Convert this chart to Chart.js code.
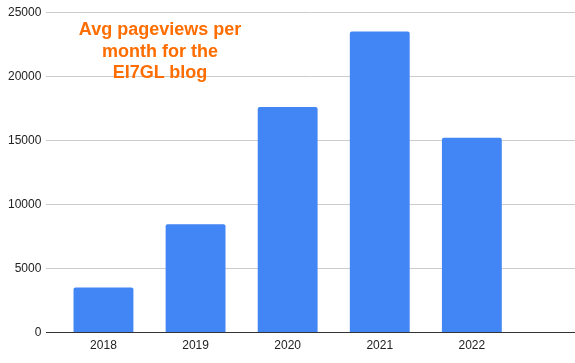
<!DOCTYPE html>
<html>
<head>
<meta charset="utf-8">
<script src="https://cdn.jsdelivr.net/npm/chart.js@4"></script>
<style>
  html, body { margin: 0; padding: 0; background: #fff; }
  #wrap { position: relative; width: 575px; height: 363px; }
  #title {
    position: absolute; left: 60px; top: 19px; width: 200px;
    text-align: center; color: #ff6d01;
    font: bold 18px "Liberation Sans", Arial, sans-serif; line-height: 21.5px;
  }
</style>
</head>
<body>
<div id="wrap">
  <canvas id="Chart1" width="575" height="363"></canvas>
  <div id="title">Avg pageviews per<br>month for the<br>EI7GL blog</div>
</div>
<script>
const years = ['2018', '2019', '2020', '2021', '2022'];
const pageviews = [3520, 8450, 17600, 23500, 15200];
const yTicks = [0, 5000, 10000, 15000, 20000, 25000];

const ctx1 = document.getElementById('Chart1').getContext('2d');

new Chart(ctx1, {
    type: 'bar',
    data: {
        datasets: [{
            label: 'pageviews',
            data: years.map((y, i) => ({ x: i, y: pageviews[i] })),
            backgroundColor: '#4285f4',
            borderRadius: { topLeft: 2, topRight: 2 },
            borderSkipped: 'bottom',
            barPercentage: 0.65,
            categoryPercentage: 1
        }]
    },
    options: {
        responsive: false,
        animation: false,
        layout: { padding: { left: 3, right: 0, top: 11, bottom: 4 } },
        plugins: {
            legend: { display: false },
            tooltip: { enabled: false }
        },
        scales: {
            x: {
                type: 'linear',
                offset: false,
                min: -0.62,
                max: 5.12,
                afterBuildTicks: scale => {
                    scale.ticks = years.map((y, i) => ({ value: i }));
                },
                ticks: {
                    callback: v => years[v],
                    color: '#222',
                    font: { family: 'Liberation Sans, Arial', size: 12 },
                    padding: 6,
                    maxRotation: 0
                },
                grid: { display: false, drawTicks: false },
                border: { display: true, color: '#333', width: 1 }
            },
            y: {
                min: 0,
                max: 25000,
                afterBuildTicks: scale => {
                    scale.ticks = yTicks.map(v => ({ value: v }));
                },
                ticks: {
                    callback: v => String(v),
                    color: '#222',
                    font: { family: 'Liberation Sans, Arial', size: 12 },
                    padding: 5
                },
                grid: { color: '#cccccc', drawTicks: false },
                border: { display: false }
            }
        }
    }
});
</script>
</body>
</html>
